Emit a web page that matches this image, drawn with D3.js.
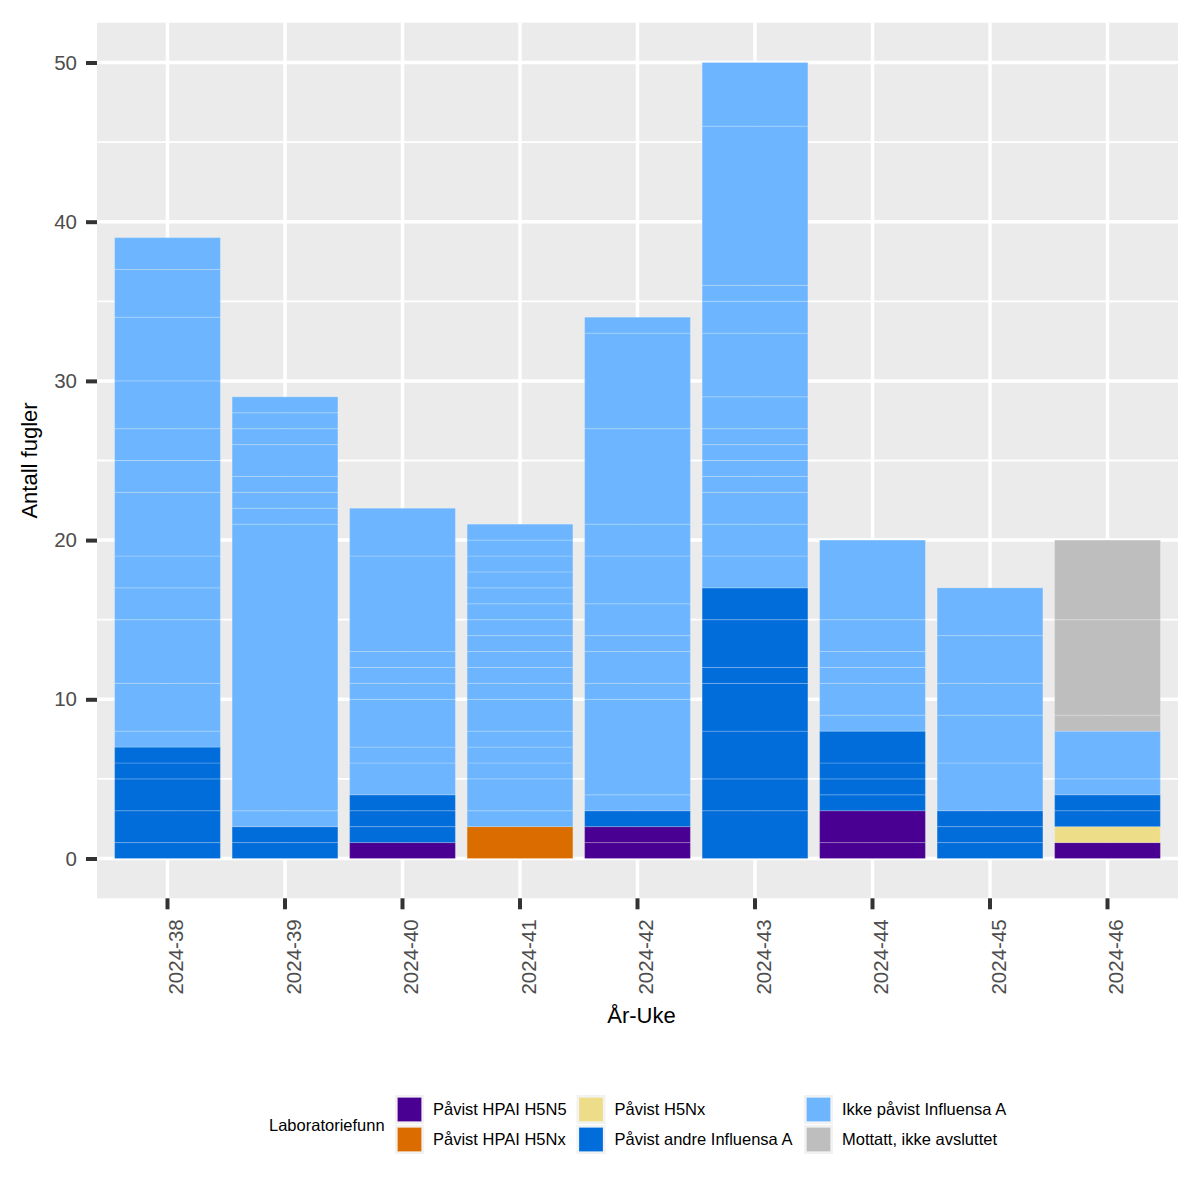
<!DOCTYPE html>
<meta charset="utf-8">
<head>
	<script src="https://d3js.org/d3.v7.min.js"></script>
</head>
<style>
	body {
		margin: 0;
		background: #fff;
	}
	text {
		font-family: "Liberation Sans", Arial, sans-serif;
	}
	.tick-label {
		fill: #4d4d4d;
		font-size: 20.5px;
	}
	.axis-title {
		fill: #000;
		font-size: 22px;
	}
	.legend-text {
		fill: #000;
		font-size: 16.5px;
	}
</style>
<body>
<svg id="chart" width="1200" height="1200"></svg>
<script>
	// weeks on the x axis
	var weeks = ["2024-38", "2024-39", "2024-40", "2024-41", "2024-42",
		"2024-43", "2024-44", "2024-45", "2024-46"];

	// result categories, bottom of the stack first
	var categories = ["Påvist HPAI H5N5", "Påvist HPAI H5Nx", "Påvist H5Nx",
		"Påvist andre Influensa A", "Ikke påvist Influensa A", "Mottatt, ikke avsluttet"];
	var catColors = ["#490092", "#db6d00", "#eedd88", "#006ddb", "#6db6ff", "#bebebe"];

	// each bar is built from individual submissions (number of birds), bottom up
	var hpaiH5N5 = [[], [], [1], [], [1, 1], [], [1, 2], [], [1]];
	var hpaiH5Nx = [[], [], [], [2], [], [], [], [], []];
	var h5Nx = [[], [], [], [], [], [], [], [], [1]];
	var andreInfluensa = [[1, 2, 2, 1, 1], [1, 1], [1, 1, 1], [], [1],
		[3, 2, 3, 3, 1, 3, 2], [1, 1, 1, 2], [1, 1, 1], [1, 1]];
	var ikkePavist = [
		[1, 3, 4, 2, 2, 4, 2, 2, 3, 4, 3, 2],
		[1, 18, 1, 1, 1, 2, 1, 1, 1],
		[2, 1, 3, 1, 1, 1, 6, 3],
		[1, 2, 1, 1, 1, 2, 1, 1, 1, 1, 1, 1, 1, 1, 1, 1, 1],
		[1, 6, 1, 2, 1, 2, 3, 2, 6, 6, 1],
		[2, 2, 2, 1, 1, 1, 1, 2, 4, 2, 1, 10, 4],
		[1, 2, 1, 1, 2, 5],
		[3, 3, 2, 3, 3],
		[1, 3]];
	var mottatt = [[], [], [], [], [], [], [], [], [1, 6, 5]];

	var yTicks = [0, 10, 20, 30, 40, 50];
	var yMinor = [5, 15, 25, 35, 45];

	var seriesList = [hpaiH5N5, hpaiH5Nx, h5Nx, andreInfluensa, ikkePavist, mottatt];

	// panel box
	var panelL = 97, panelR = 1178, panelT = 22.7, panelB = 898.3;

	var svg = d3.select("#chart");

	var x = d3.scaleBand()
		.domain(weeks)
		.range([panelL, panelR])
		.paddingInner(0.1)
		.paddingOuter(0.15);

	var y = d3.scaleLinear()
		.domain([-2.5, 52.5])
		.range([panelB, panelT]);

	var color = d3.scaleOrdinal()
		.domain(categories)
		.range(catColors);

	// flatten into stacked segments
	var segments = [];
	weeks.forEach(function(w, i) {
		var base = 0;
		seriesList.forEach(function(s, c) {
			s[i].forEach(function(n) {
				segments.push({ week: w, cat: categories[c], y0: base, y1: base + n });
				base += n;
			});
		});
	});

	// panel background
	svg.append("rect")
		.attr("x", panelL)
		.attr("y", panelT)
		.attr("width", panelR - panelL)
		.attr("height", panelB - panelT)
		.attr("fill", "#ebebeb");

	// grid
	var grid = svg.append("g");
	grid.selectAll(".minor")
		.data(yMinor)
		.enter().append("line")
		.attr("x1", panelL).attr("x2", panelR)
		.attr("y1", function(d) { return y(d); })
		.attr("y2", function(d) { return y(d); })
		.attr("stroke", "#fff")
		.attr("stroke-width", 1.8);
	grid.selectAll(".major")
		.data(yTicks)
		.enter().append("line")
		.attr("x1", panelL).attr("x2", panelR)
		.attr("y1", function(d) { return y(d); })
		.attr("y2", function(d) { return y(d); })
		.attr("stroke", "#fff")
		.attr("stroke-width", 3.5);
	grid.selectAll(".vmajor")
		.data(weeks)
		.enter().append("line")
		.attr("x1", function(d) { return x(d) + x.bandwidth() / 2; })
		.attr("x2", function(d) { return x(d) + x.bandwidth() / 2; })
		.attr("y1", panelT).attr("y2", panelB)
		.attr("stroke", "#fff")
		.attr("stroke-width", 3.5);

	// bars
	svg.append("g")
		.selectAll("rect")
		.data(segments)
		.enter().append("rect")
		.attr("x", function(d) { return x(d.week); })
		.attr("width", x.bandwidth())
		.attr("y", function(d) { return y(d.y1); })
		.attr("height", function(d) { return y(d.y0) - y(d.y1); })
		.attr("fill", function(d) { return color(d.cat); })
		.attr("stroke", "#fff")
		.attr("stroke-opacity", 0.2)
		.attr("stroke-width", 1);

	// y axis
	var yAxis = d3.axisLeft(y)
		.tickValues(yTicks)
		.tickSize(11)
		.tickPadding(9)
		.tickFormat(d3.format("d"));
	var gy = svg.append("g")
		.attr("transform", "translate(" + panelL + ",0)")
		.call(yAxis);
	gy.select(".domain").remove();
	gy.selectAll(".tick line")
		.attr("stroke", "#333")
		.attr("stroke-width", 4);
	gy.selectAll(".tick text")
		.attr("class", "tick-label");
	gy.attr("font-size", null).attr("font-family", null);

	// x axis
	var xAxis = d3.axisBottom(x).tickSize(11);
	var gx = svg.append("g")
		.attr("transform", "translate(0," + panelB + ")")
		.call(xAxis);
	gx.select(".domain").remove();
	gx.attr("font-size", null).attr("font-family", null);
	gx.selectAll(".tick line")
		.attr("stroke", "#333")
		.attr("stroke-width", 4);
	gx.selectAll(".tick text")
		.attr("class", "tick-label")
		.attr("text-anchor", "end")
		.attr("dy", null)
		.attr("y", 0)
		.attr("transform", "translate(15.5,21) rotate(-90)");

	// axis titles
	svg.append("text")
		.attr("class", "axis-title")
		.attr("text-anchor", "middle")
		.attr("transform", "translate(37," + (panelT + panelB) / 2 + ") rotate(-90)")
		.text("Antall fugler");
	svg.append("text")
		.attr("class", "axis-title")
		.attr("text-anchor", "middle")
		.attr("x", (panelL + panelR) / 2 + 4)
		.attr("y", 1022.5)
		.text("År-Uke");

	// legend
	var legend = svg.append("g");
	legend.append("text")
		.attr("class", "legend-text")
		.attr("x", 269)
		.attr("y", 1125.5)
		.attr("dy", "0.35em")
		.text("Laboratoriefunn");

	var colX = [395, 576.5, 804];
	var rowY = [1095, 1125];
	var items = legend.selectAll(".item")
		.data(categories)
		.enter().append("g")
		.attr("transform", function(d, i) {
			return "translate(" + colX[Math.floor(i / 2)] + "," + rowY[i % 2] + ")";
		});
	items.append("rect")
		.attr("width", 29)
		.attr("height", 29)
		.attr("fill", "#f2f2f2");
	items.append("rect")
		.attr("x", 2.5)
		.attr("y", 2.5)
		.attr("width", 24)
		.attr("height", 24)
		.attr("fill", function(d) { return color(d); })
		.attr("stroke", "#fff")
		.attr("stroke-opacity", 0.2);
	items.append("text")
		.attr("class", "legend-text")
		.attr("x", 38)
		.attr("y", 14.5)
		.attr("dy", "0.35em")
		.text(function(d) { return d; });
</script>
</body>
